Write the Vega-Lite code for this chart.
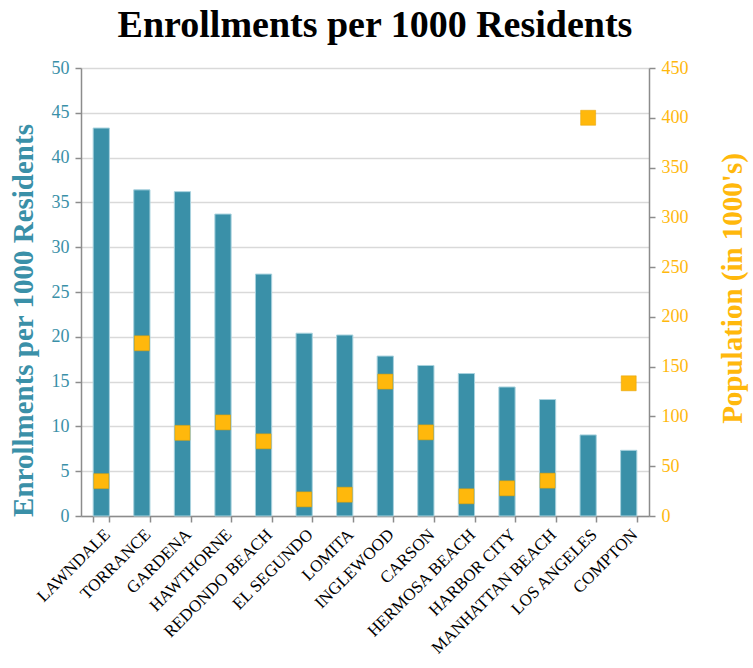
{
  "$schema": "https://vega.github.io/schema/vega-lite/v6.json",
  "width": 568,
  "height": 448,
  "autosize": "none",
  "padding": {"left": 81, "top": 68, "right": 104, "bottom": 152},
  "title": {
    "text": "Enrollments per 1000 Residents",
    "font": "Liberation Serif",
    "fontSize": 38,
    "fontWeight": "bold",
    "color": "#000000",
    "anchor": "middle",
    "frame": "group",
    "dx": 10,
    "offset": 14
  },
  "config": {
    "view": {"stroke": null},
    "font": "Liberation Serif"
  },
  "data": {
    "values": [
      {"city": "LAWNDALE", "enroll": 43.3, "pop": 35},
      {"city": "TORRANCE", "enroll": 36.4, "pop": 173.5},
      {"city": "GARDENA", "enroll": 36.2, "pop": 83.5},
      {"city": "HAWTHORNE", "enroll": 33.7, "pop": 94},
      {"city": "REDONDO BEACH", "enroll": 27.0, "pop": 75},
      {"city": "EL SEGUNDO", "enroll": 20.4, "pop": 16.7},
      {"city": "LOMITA", "enroll": 20.2, "pop": 21.4},
      {"city": "INGLEWOOD", "enroll": 17.85, "pop": 135},
      {"city": "CARSON", "enroll": 16.8, "pop": 84},
      {"city": "HERMOSA BEACH", "enroll": 15.9, "pop": 19.8},
      {"city": "HARBOR CITY", "enroll": 14.4, "pop": 27.8},
      {"city": "MANHATTAN BEACH", "enroll": 13.0, "pop": 35.5},
      {"city": "LOS ANGELES", "enroll": 9.05, "pop": 400},
      {"city": "COMPTON", "enroll": 7.33, "pop": 133.3}
    ]
  },
  "encoding": {
    "x": {
      "field": "city",
      "type": "nominal",
      "sort": null,
      "scale": {"paddingInner": 0.6, "paddingOuter": 0.3},
      "axis": {
        "title": null,
        "labelAngle": -45,
        "labelFont": "Liberation Serif",
        "labelFontSize": 17,
        "labelColor": "#000000",
        "labelPadding": 4,
        "tickBand": "extent",
        "tickColor": "#8c8c8c",
        "tickSize": 6,
        "tickWidth": 1.5,
        "domainColor": "#8c8c8c",
        "domainWidth": 1.5,
        "grid": false
      }
    }
  },
  "layer": [
    {
      "mark": {"type": "bar", "color": "#3A90A8", "stroke": "#A8D2DE", "strokeWidth": 1},
      "encoding": {
        "y": {
          "field": "enroll",
          "type": "quantitative",
          "scale": {"domain": [0, 50], "nice": false},
          "axis": {
            "orient": "left",
            "values": [0, 5, 10, 15, 20, 25, 30, 35, 40, 45, 50],
            "title": "Enrollments per 1000 Residents",
            "titleFont": "Liberation Serif",
            "titleFontSize": 29,
            "titleFontWeight": "bold",
            "titleColor": "#3A90A8",
            "titleX": -58,
            "titleY": 252,
            "titleAlign": "center",
            "titleBaseline": "middle",
            "labelFont": "Liberation Serif",
            "labelFontSize": 18,
            "labelColor": "#3A90A8",
            "labelPadding": 6,
            "tickColor": "#8c8c8c",
            "tickSize": 6,
            "tickWidth": 1.5,
            "domainColor": "#8c8c8c",
            "domainWidth": 1.5,
            "grid": true,
            "gridColor": "#d9d9d9",
            "gridWidth": 1.5
          }
        }
      }
    },
    {
      "mark": {"type": "point", "shape": "square", "filled": true, "size": 225, "color": "#FFB80C", "stroke": "#E0A000", "strokeWidth": 0.5, "opacity": 1},
      "encoding": {
        "y": {
          "field": "pop",
          "type": "quantitative",
          "scale": {"domain": [0, 450], "nice": false},
          "axis": {
            "orient": "right",
            "values": [0, 50, 100, 150, 200, 250, 300, 350, 400, 450],
            "title": "Population (in 1000's)",
            "titleFont": "Liberation Serif",
            "titleFontSize": 29,
            "titleFontWeight": "bold",
            "titleColor": "#FFB80C",
            "titleAngle": -90,
            "titleX": 83,
            "titleY": 220,
            "titleAlign": "center",
            "titleBaseline": "middle",
            "labelFont": "Liberation Serif",
            "labelFontSize": 18,
            "labelColor": "#FFB80C",
            "labelPadding": 6,
            "tickColor": "#8c8c8c",
            "tickSize": 6,
            "tickWidth": 1.5,
            "domainColor": "#8c8c8c",
            "domainWidth": 1.5,
            "grid": false
          }
        }
      }
    }
  ],
  "resolve": {"scale": {"y": "independent"}}
}
